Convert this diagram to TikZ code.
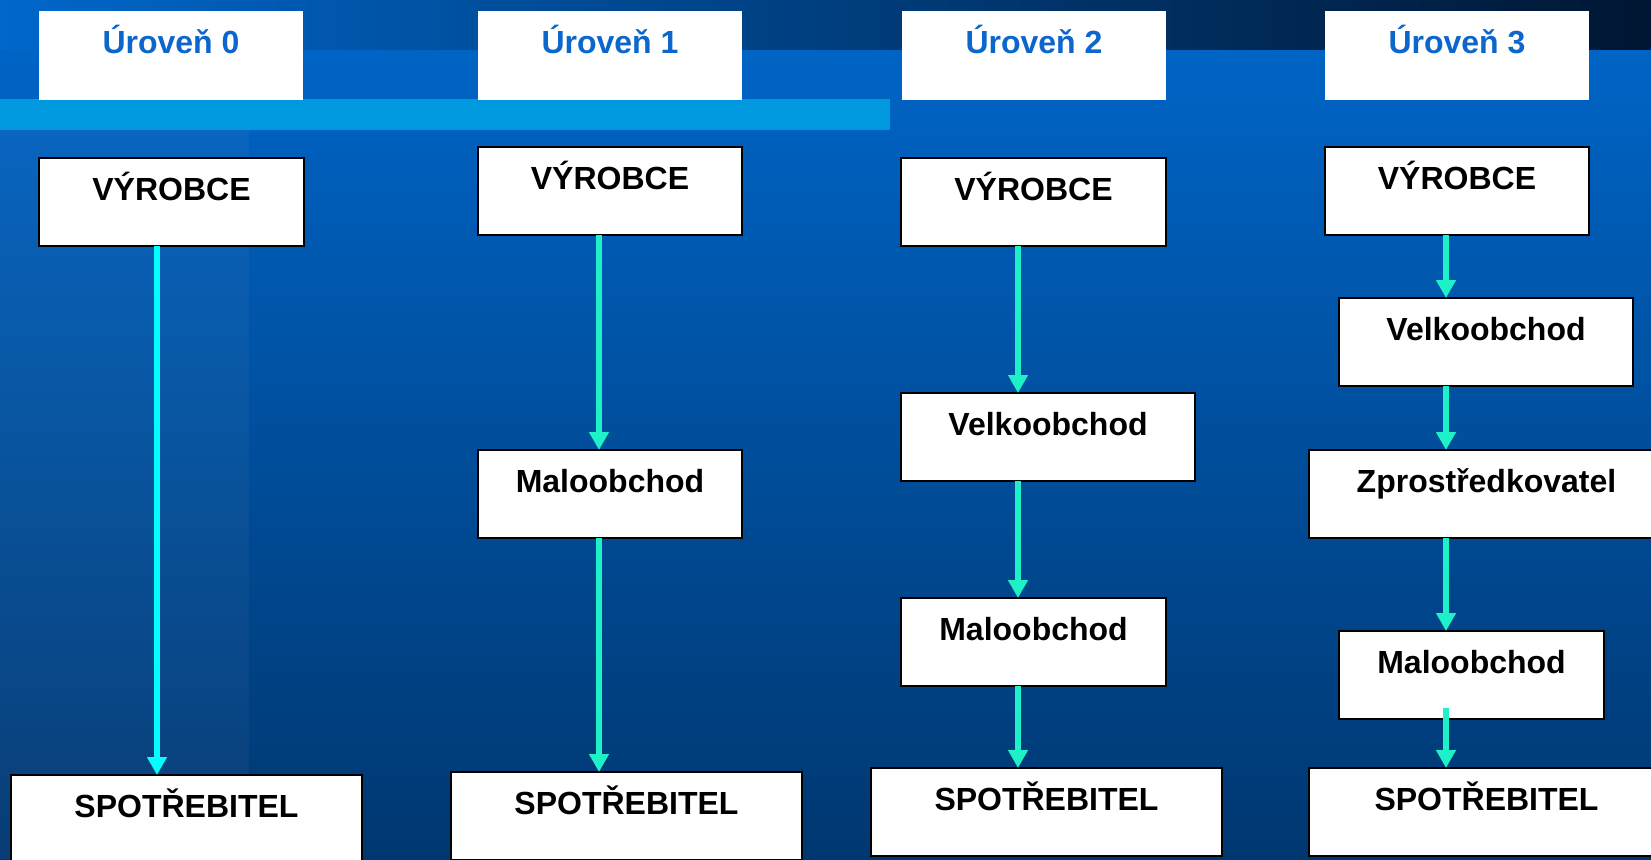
\documentclass[tikz,border=0pt]{standalone}
\usepackage{fontspec}
\setmainfont{Liberation Sans}
\usetikzlibrary{arrows.meta}
\definecolor{bgtop}{RGB}{0,103,203}
\definecolor{bgbot}{RGB}{0,55,112}
\definecolor{bandright}{RGB}{0,22,50}
\definecolor{stripecol}{RGB}{0,152,222}
\definecolor{hdrblue}{RGB}{12,102,204}
\definecolor{aquacol}{RGB}{30,240,200}
\definecolor{cyancol}{RGB}{0,255,255}
\begin{document}
\begin{tikzpicture}[x=1pt,y=-1pt,
  txt/.style={font=\fontsize{32}{36}\selectfont\bfseries, inner sep=0pt, outer sep=0pt,
              text height=42pt, align=center, anchor=north west},
  hdr/.style={txt, fill=white, text=hdrblue, text depth=47pt, minimum width=#1},
  bx/.style={txt, fill=white, draw=black, line width=2pt, text=black, text depth=46pt, minimum width=#1},
  flow/.style={line width=5.5pt, draw=aquacol, -{Triangle[width=19pt,length=18pt]}},
  flowc/.style={flow, draw=cyancol}]
\clip (0,0) rectangle (1651,859);
\useasboundingbox (0,0) rectangle (1651,859);
% background
\shade[top color=bgtop, bottom color=bgbot] (0,0) rectangle (1651,859);
\shade[left color=bgtop, right color=bandright] (0,0) rectangle (1651,50);
\fill[white, opacity=0.035] (0,130) rectangle (249,859);
\fill[stripecol] (0,99) rectangle (890,130);
% headers
\node[hdr=264pt] (h0) at (39,11) {Úroveň 0};
\node[hdr=264pt] (h1) at (478,11) {Úroveň 1};
\node[hdr=264pt] (h2) at (902,11) {Úroveň 2};
\node[hdr=264pt] (h3) at (1325,11) {Úroveň 3};
% column 0
\node[bx=265pt] (v0) at (39,158) {VÝROBCE};
\node[bx=351pt] (s0) at (11,775) {SPOTŘEBITEL};
% column 1
\node[bx=264pt] (v1) at (478,147) {VÝROBCE};
\node[bx=264pt] (m1) at (478,450) {Maloobchod};
\node[bx=351pt] (s1) at (451,772) {SPOTŘEBITEL};
% column 2
\node[bx=265pt] (v2) at (901,158) {VÝROBCE};
\node[bx=294pt] (k2) at (901,393) {Velkoobchod};
\node[bx=265pt] (m2) at (901,598) {Maloobchod};
\node[bx=351pt] (s2) at (871,768) {SPOTŘEBITEL};
% column 3
\node[bx=264pt] (v3) at (1325,147) {VÝROBCE};
\node[bx=294pt] (k3) at (1339,298) {Velkoobchod};
\node[bx=355pt] (z3) at (1309,450) {Zprostředkovatel};
\node[bx=265pt] (m3) at (1339,631) {Maloobchod};
\node[bx=355pt] (s3) at (1309,768) {SPOTŘEBITEL};
% arrow columns
\coordinate (c0) at (157,0);
\coordinate (c1) at (599,0);
\coordinate (c2) at (1018,0);
\coordinate (c3) at (1446,0);
\coordinate (m3o) at ([yshift=11pt]m3.south);
% arrows
\draw[flowc] (v0.south -| c0) -- (s0.north -| c0);
\draw[flow] (v1.south -| c1) -- (m1.north -| c1);
\draw[flow] (m1.south -| c1) -- (s1.north -| c1);
\draw[flow] (v2.south -| c2) -- (k2.north -| c2);
\draw[flow] (k2.south -| c2) -- (m2.north -| c2);
\draw[flow] (m2.south -| c2) -- (s2.north -| c2);
\draw[flow] (v3.south -| c3) -- (k3.north -| c3);
\draw[flow] (k3.south -| c3) -- (z3.north -| c3);
\draw[flow] (z3.south -| c3) -- (m3.north -| c3);
\draw[flow] (m3o -| c3) -- (s3.north -| c3);
\end{tikzpicture}
\end{document}
